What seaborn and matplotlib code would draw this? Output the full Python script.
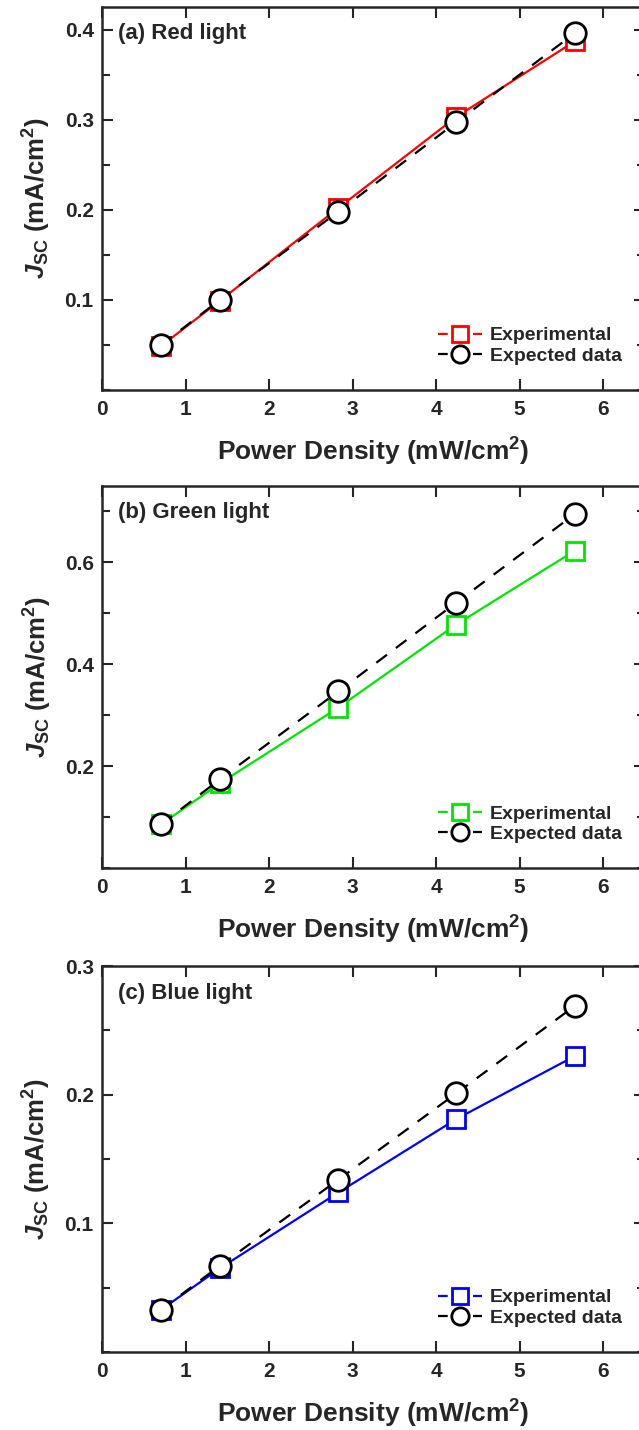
import numpy as np
import pandas as pd
import seaborn as sns
import matplotlib.pyplot as plt
from matplotlib.lines import Line2D
from matplotlib.ticker import MultipleLocator

# power density (mW/cm2)
power = [0.71, 1.41, 2.83, 4.24, 5.66]

# Jsc values (mA/cm2)
red_exp = [0.049, 0.099, 0.202, 0.303, 0.387]
red_expected = [0.050, 0.100, 0.198, 0.297, 0.396]
green_exp = [0.086, 0.166, 0.315, 0.478, 0.623]
green_expected = [0.086, 0.174, 0.347, 0.521, 0.695]
blue_exp = [0.033, 0.065, 0.124, 0.181, 0.230]
blue_expected = [0.033, 0.067, 0.134, 0.201, 0.269]

panel_titles = ["(a) Red light", "(b) Green light", "(c) Blue light"]
panel_colors = ["#ff0000", "#00e600", "#0000ff"]
panel_ylims = [(0, 0.425), (0, 0.75), (0, 0.3)]
panel_yticks = [[0.1, 0.2, 0.3, 0.4], [0.2, 0.4, 0.6], [0.1, 0.2, 0.3]]
panel_minor = [0.05, 0.1, 0.05]

sns.set_style("ticks")
plt.rcParams['font.family'] = ['Liberation Sans', 'DejaVu Sans']
plt.rcParams['font.weight'] = 'bold'
plt.rcParams['mathtext.fontset'] = 'custom'
plt.rcParams['mathtext.rm'] = 'Liberation Sans:bold'
plt.rcParams['mathtext.it'] = 'Liberation Sans:italic:bold'
plt.rcParams['mathtext.bf'] = 'Liberation Sans:bold'

W, H = 639, 1430
fig = plt.figure(figsize=(W / 100, H / 100), dpi=100)

# axes boxes in pixels: (top, bottom)
boxes = [(7, 390), (486, 868), (966, 1352)]
left_px, right_px = 102, 645

data = [(red_exp, red_expected), (green_exp, green_expected), (blue_exp, blue_expected)]

LW = 1.6
leg_fs = 14
hlen = 2.3
seg = 7.0  # legend line segment length in points
for i, (top, bot) in enumerate(boxes):
    ax = fig.add_axes([left_px / W, 1 - bot / H, (right_px - left_px) / W, (bot - top) / H])
    exp_vals, expd_vals = data[i]
    col = panel_colors[i]
    df = pd.DataFrame({'power': power, 'exp': exp_vals, 'expected': expd_vals})

    sns.lineplot(data=df, x='power', y='exp', ax=ax, color=col, lw=LW,
                 marker='s', markersize=13.5, markerfacecolor='white',
                 markeredgecolor=col, markeredgewidth=2.0, zorder=3)
    sns.lineplot(data=df, x='power', y='expected', ax=ax, color='black', lw=LW,
                 linestyle=(0, (6, 5)), marker='o', markersize=15.5,
                 markerfacecolor='white', markeredgecolor='black',
                 markeredgewidth=2.0, zorder=4)

    ax.set_xlim(0, 6.5)
    ax.set_ylim(*panel_ylims[i])
    ax.xaxis.set_major_locator(MultipleLocator(1))
    ax.set_yticks(panel_yticks[i])
    ax.yaxis.set_minor_locator(MultipleLocator(panel_minor[i]))
    ax.tick_params(axis='both', which='both', direction='in', top=True, right=True,
                   width=1.5, labelsize=15)
    ax.tick_params(axis='both', which='major', length=8)
    ax.tick_params(axis='both', which='minor', length=6)
    ax.tick_params(axis='x', pad=7)
    ax.tick_params(axis='y', pad=6)
    for lab in ax.get_xticklabels() + ax.get_yticklabels():
        lab.set_fontweight('bold')
    for sp in ax.spines.values():
        sp.set_linewidth(1.8)

    ax.set_xlabel("Power Density (mW/cm$^{\\mathrm{2}}$)", fontsize=19,
                  fontweight='bold', labelpad=12)
    ax.set_ylabel("$\\mathit{J}_{\\mathrm{SC}}$ (mA/cm$^{\\mathrm{2}}$)", fontsize=18.5,
                  fontweight='bold', labelpad=8)
    ax.text(0.03, 0.93, panel_titles[i], transform=ax.transAxes, fontsize=16,
            fontweight='bold', va='center', ha='left')

    L = hlen * leg_fs
    dash = (0, (seg / LW, (L - 2 * seg) / LW))
    h_exp = (Line2D([], [], color=col, lw=LW, linestyle=dash),
             Line2D([], [], ls='none', marker='s', markersize=11.5,
                    markerfacecolor='white', markeredgecolor=col, markeredgewidth=2.0))
    h_expd = (Line2D([], [], color='black', lw=LW, linestyle=dash),
              Line2D([], [], ls='none', marker='o', markersize=12.5,
                     markerfacecolor='white', markeredgecolor='black', markeredgewidth=2.0))
    ax.legend([h_exp, h_expd], ["Experimental", "Expected data"], loc='lower right',
              bbox_to_anchor=(0.972, 0.045), frameon=False,
              handlelength=hlen, handletextpad=0.4, labelspacing=0.15,
              borderaxespad=0.0, prop={'weight': 'bold', 'size': leg_fs})

fig.savefig("out.png", dpi=100)
